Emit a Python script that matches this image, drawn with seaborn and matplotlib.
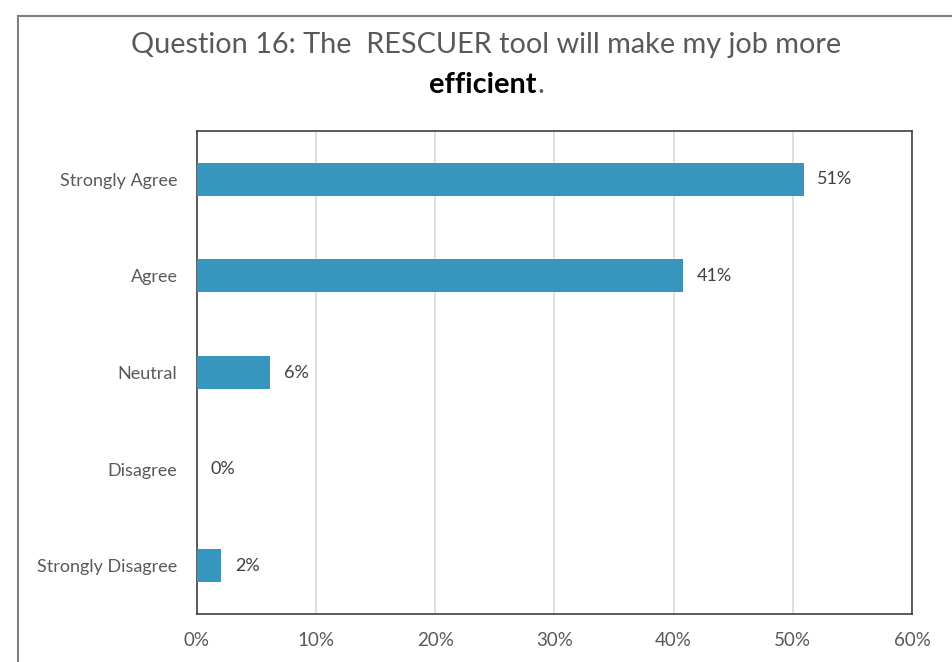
import matplotlib
matplotlib.use("Agg")
import matplotlib.pyplot as plt
import seaborn as sns
import pandas as pd
from matplotlib.patches import Rectangle
from matplotlib.ticker import FuncFormatter

categories = ["Strongly Agree", "Agree", "Neutral", "Disagree", "Strongly Disagree"]
values = [50.9, 40.8, 6.1, 0.0, 2.0]
value_labels = ["51%", "41%", "6%", "0%", "2%"]
x_ticks = [0, 10, 20, 30, 40, 50, 60]

sns.set_theme(style="white")
plt.rcParams['font.family'] = ['Lato', 'DejaVu Sans']

df = pd.DataFrame({"category": categories, "value": values})

fig = plt.figure(figsize=(9.53, 6.62), dpi=100)
ax = fig.add_axes([197/953, 1-614/662, (912-197)/953, (614-131)/662])

sns.barplot(data=df, y="category", x="value", order=categories, color="#3796BE",
            width=0.34, saturation=1, ax=ax, zorder=3, linewidth=0)

ax.set_xlim(0, 60)
ax.set_xticks(x_ticks)
ax.xaxis.set_major_formatter(FuncFormatter(lambda v, p: f"{int(v)}%"))
ax.grid(axis="x", color="#D9D9D9", linewidth=1.2, zorder=0)
ax.set_axisbelow(True)
ax.set_xlabel("")
ax.set_ylabel("")
for s in ax.spines.values():
    s.set_visible(True)
    s.set_color("#404040")
    s.set_linewidth(1.2)
ax.tick_params(axis="x", colors="#595959", labelsize=13.5, length=0, pad=13)
ax.tick_params(axis="y", colors="#595959", labelsize=13, length=0, pad=14)
for lab in ax.get_yticklabels() + ax.get_xticklabels():
    lab.set_color("#595959")

for i, (v, lab) in enumerate(zip(values, value_labels)):
    ax.annotate(lab, xy=(v, i), xytext=(10, 0), textcoords="offset points",
                va="center", ha="left", fontsize=13, color="#404040")

# Title
fig.text(486/953, 1-45/662, "Question 16: The  RESCUER tool will make my job more",
         ha="center", va="center", fontsize=20.8, color="#595959")
t2 = fig.text(483/953, 1-85/662, "efficient", ha="center", va="center",
              fontsize=20.8, color="black", fontweight="bold")
fig.canvas.draw()
bb = t2.get_window_extent()
fig.text(bb.x1/953 + 0.001, 1-85/662, ".", ha="left", va="center",
         fontsize=20.8, color="#595959")

# outer border
fig.patches.append(Rectangle((18/953, -0.05), 1.2, 1-16/662 + 0.05, transform=fig.transFigure,
                             fill=False, edgecolor="#7F7F7F", linewidth=1.5, clip_on=False))

fig.savefig("out.png", dpi=100)
